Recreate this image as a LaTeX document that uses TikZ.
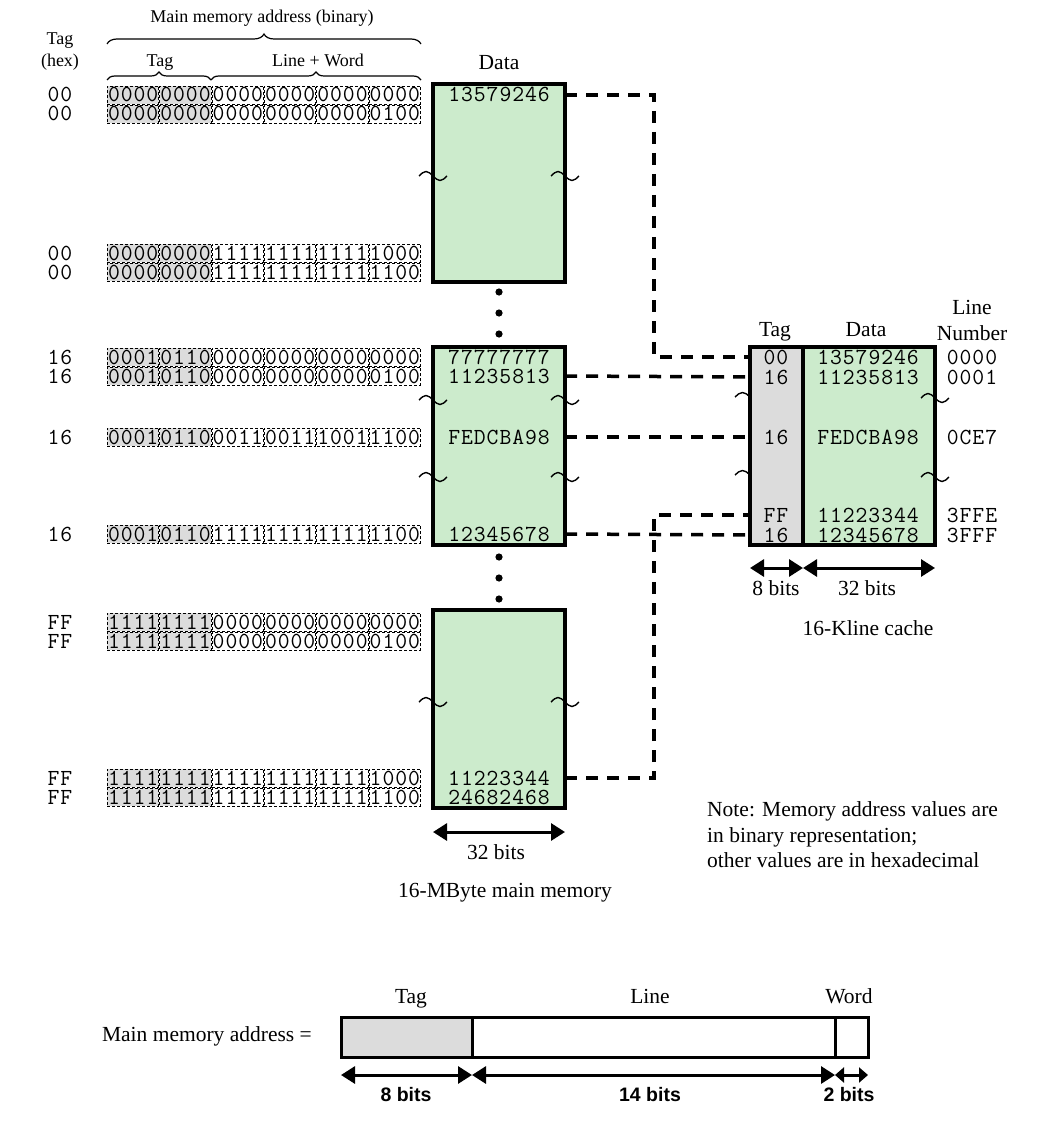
\documentclass[tikz,border=0pt]{standalone}
\usepackage{fontspec}
\setmainfont{Liberation Serif}
\setsansfont{Liberation Sans}
\newfontfamily\codefont{Latin Modern Mono}[LetterSpace=4.2]
\usetikzlibrary{arrows.meta,decorations.pathreplacing}

\definecolor{memgreen}{RGB}{204,235,204}
\definecolor{taggray}{RGB}{220,220,220}

\tikzset{
  lbl/.style={font=\fontsize{21.5}{25}\selectfont, inner sep=0pt, text height=0.9em, text depth=0em},
  hdr/.style={font=\fontsize{18}{21}\selectfont, inner sep=0pt, text height=0.9em, text depth=0em},
  mono/.style={font=\fontsize{23}{25}\selectfont\codefont, inner sep=0pt, text height=14pt, text depth=0pt},
  bitbox/.style={mono, draw, dash pattern=on 3pt off 2pt, line width=0.8pt,
                 minimum width=51.4pt, minimum height=18pt, anchor=center},
  tagbit/.style={bitbox, fill=taggray},
  memblock/.style={draw, line width=3.5pt, fill=memgreen},
  conn/.style={line width=3.5pt, dash pattern=on 12pt off 9pt},
  dimarrow/.style={line width=3pt, {Triangle[length=14pt,width=17pt]}-{Triangle[length=14pt,width=17pt]}},
  wavy/.style={line width=1.4pt},
  bracestyle/.style={line width=1.2pt, decorate},
  boldlbl/.style={font=\fontsize{19.5}{23}\selectfont\sffamily\bfseries, inner sep=0pt, text height=0.9em, text depth=0em},
}

\newcommand\addrrow[8]{%
  \node[mono] (h#1) at (60,#1) {#2};
  \node[tagbit] (g#1a) at (133.17,#1) {#3};
  \node[tagbit] (g#1b) at (185.5,#1) {#4};
  \node[bitbox] (g#1c) at (237.83,#1) {#5};
  \node[bitbox] (g#1d) at (290.17,#1) {#6};
  \node[bitbox] (g#1e) at (342.5,#1) {#7};
  \node[bitbox] (g#1f) at (394.83,#1) {#8};
}
\newcommand\mywave[2]{%
  \draw[wavy] (#1,#2) ++(-14,0) sin ++(7,-4.5) cos ++(7,4.5) sin ++(7,4.5) cos ++(7,-4.5);
}
\newcommand\myhalfwave[2]{%
  \draw[wavy] (#1,#2) ++(-15,0) sin ++(7.5,-4.5) cos ++(7.5,4.5);
}

\begin{document}
\begin{tikzpicture}[x=1pt,y=-1pt]
\useasboundingbox (0,0) rectangle (1051,1123);

% ---------- headers ----------
\node[hdr] (taghdr1) at (60,40) {Tag};
\node[hdr] (taghdr2) at (60,62) {(hex)};
\node[hdr] (mmahdr) at (262,18) {Main memory address (binary)};
\node[hdr] (tagbr) at (160,62) {Tag};
\node[hdr] (lwbr) at (318,62) {Line + Word};
\draw[bracestyle, decoration={brace, amplitude=10pt}] (107,44) -- (421,44);
\draw[bracestyle, decoration={brace, amplitude=8pt}] (107,80) -- (211,80);
\draw[bracestyle, decoration={brace, amplitude=8pt}] (211,80) -- (421,80);

% ---------- memory blocks ----------
\node[lbl] (datahdr) at (499,65) {Data};
\draw[memblock] (433,84) rectangle (565,282);
\draw[memblock] (433,347) rectangle (565,545);
\draw[memblock] (433,610) rectangle (565,808);

% address rows
\addrrow{95}{00}{0000}{0000}{0000}{0000}{0000}{0000}
\addrrow{114}{00}{0000}{0000}{0000}{0000}{0000}{0100}
\addrrow{253}{00}{0000}{0000}{1111}{1111}{1111}{1000}
\addrrow{272}{00}{0000}{0000}{1111}{1111}{1111}{1100}
\addrrow{357}{16}{0001}{0110}{0000}{0000}{0000}{0000}
\addrrow{376}{16}{0001}{0110}{0000}{0000}{0000}{0100}
\addrrow{437}{16}{0001}{0110}{0011}{0011}{1001}{1100}
\addrrow{534}{16}{0001}{0110}{1111}{1111}{1111}{1100}
\addrrow{622}{FF}{1111}{1111}{0000}{0000}{0000}{0000}
\addrrow{641}{FF}{1111}{1111}{0000}{0000}{0000}{0100}
\addrrow{778}{FF}{1111}{1111}{1111}{1111}{1111}{1000}
\addrrow{797}{FF}{1111}{1111}{1111}{1111}{1111}{1100}

% data in memory
\node[mono] (d95) at (499,95) {13579246};
\node[mono] (d357) at (499,357) {77777777};
\node[mono] (d376) at (499,376) {11235813};
\node[mono] (d437) at (499,437) {FEDCBA98};
\node[mono] (d534) at (499,534) {12345678};
\node[mono] (d778) at (499,778) {11223344};
\node[mono] (d797) at (499,797) {24682468};

% dots
\foreach \yy/\nm in {292/a,313/b,334/c,557/d,578/e,599/f}
  \fill (499,\yy) coordinate (dot\nm) circle (3.6pt);

% ---------- cache ----------
\fill[taggray] (750,347) rectangle (803,545);
\fill[memgreen] (803,347) rectangle (935,545);
\draw[line width=3.5pt] (750,347) rectangle (935,545);
\draw[line width=3.5pt] (803,347) -- (803,545);
\node[lbl] (ctaghdr) at (775,332) {Tag};
\node[lbl] (cdatahdr) at (866,332) {Data};
\node[lbl] (lnhdr1) at (972,310) {Line};
\node[lbl] (lnhdr2) at (972,336) {Number};

\foreach \yy/\tg/\dt/\ln in {357/00/13579246/0000, 377/16/11235813/0001, 437/16/FEDCBA98/0CE7, 515/FF/11223344/3FFE, 535/16/12345678/3FFF}{
  \node[mono] (ct\yy) at (776,\yy) {\tg};
  \node[mono] (cd\yy) at (868,\yy) {\dt};
  \node[mono] (cl\yy) at (972,\yy) {\ln};
}

% ---------- connectors ----------
\coordinate (m95) at (565,95);
\coordinate (m376) at (565,376);
\coordinate (m437) at (565,437);
\coordinate (m534) at (565,534);
\coordinate (m778) at (565,778);
\coordinate (k1) at (654,95);
\coordinate (k2) at (654,357);
\coordinate (k3) at (654,778);
\coordinate (k4) at (654,515);
\coordinate (c357) at (750,357);
\coordinate (c377) at (750,377);
\coordinate (c437) at (750,437);
\coordinate (c515) at (750,515);
\coordinate (c535) at (750,535);
\draw[conn] (m95) -- (k1) -- (k2) -- (c357);
\draw[conn] (m376) -- (c377);
\draw[conn] (m437) -- (c437);
\draw[conn] (m534) -- (c535);
\draw[conn] (m778) -- (k3) -- (k4) -- (c515);

% ---------- waves ----------
\mywave{433}{176}\mywave{565}{176}
\mywave{433}{400}\mywave{565}{400}
\mywave{433}{477}\mywave{565}{477}
\mywave{433}{702}\mywave{565}{702}
\mywave{935}{398}\mywave{935}{477}
\myhalfwave{750}{397}\myhalfwave{750}{475}

% ---------- dimension arrows ----------
\coordinate (ma1) at (433,832);
\coordinate (ma2) at (565,832);
\draw[dimarrow] (ma1) -- (ma2);
\node[lbl] (m32) at (496,855) {32 bits};
\node[lbl] (mmcap) at (505,893) {16-MByte main memory};

\coordinate (ca1) at (750,568);
\coordinate (ca2) at (803,568);
\coordinate (ca3) at (935,568);
\draw[dimarrow] (ca1) -- (ca2);
\draw[dimarrow] (ca2) -- (ca3);
\node[lbl] (c8) at (776,591) {8 bits};
\node[lbl] (c32) at (867,591) {32 bits};
\node[lbl] (ccap) at (868,631) {16-Kline cache};

% ---------- note ----------
\node[lbl, anchor=west] (note1) at (707,812) {Note: Memory address values are};
\node[lbl, anchor=west] (note2) at (707,838) {in binary representation;};
\node[lbl, anchor=west] (note3) at (707,863) {other values are in hexadecimal};

% ---------- address format ----------
\node[lbl, anchor=east] (mmaeq) at (312,1037) {Main memory address =};
\fill[taggray] (341,1017) rectangle (472,1057);
\draw[line width=3pt] (341,1017) rectangle (868,1057);
\draw[line width=3pt] (472,1017) -- (472,1057);
\draw[line width=3pt] (835,1017) -- (835,1057);
\node[lbl] (ftag) at (411,999) {Tag};
\node[lbl] (fline) at (650,999) {Line};
\node[lbl] (fword) at (849,999) {Word};
\coordinate (fa1) at (341,1075);
\coordinate (fa2) at (472,1075);
\coordinate (fa3) at (835,1075);
\coordinate (fa4) at (868,1075);
\draw[dimarrow] (fa1) -- (fa2);
\draw[dimarrow] (fa2) -- (fa3);
\draw[line width=3pt, {Triangle[length=9pt,width=15pt]}-{Triangle[length=9pt,width=15pt]}] (fa3) -- (fa4);
\node[boldlbl] (b8) at (406,1097) {8 bits};
\node[boldlbl] (b14) at (650,1097) {14 bits};
\node[boldlbl] (b2) at (849,1097) {2 bits};
\end{tikzpicture}
\end{document}
